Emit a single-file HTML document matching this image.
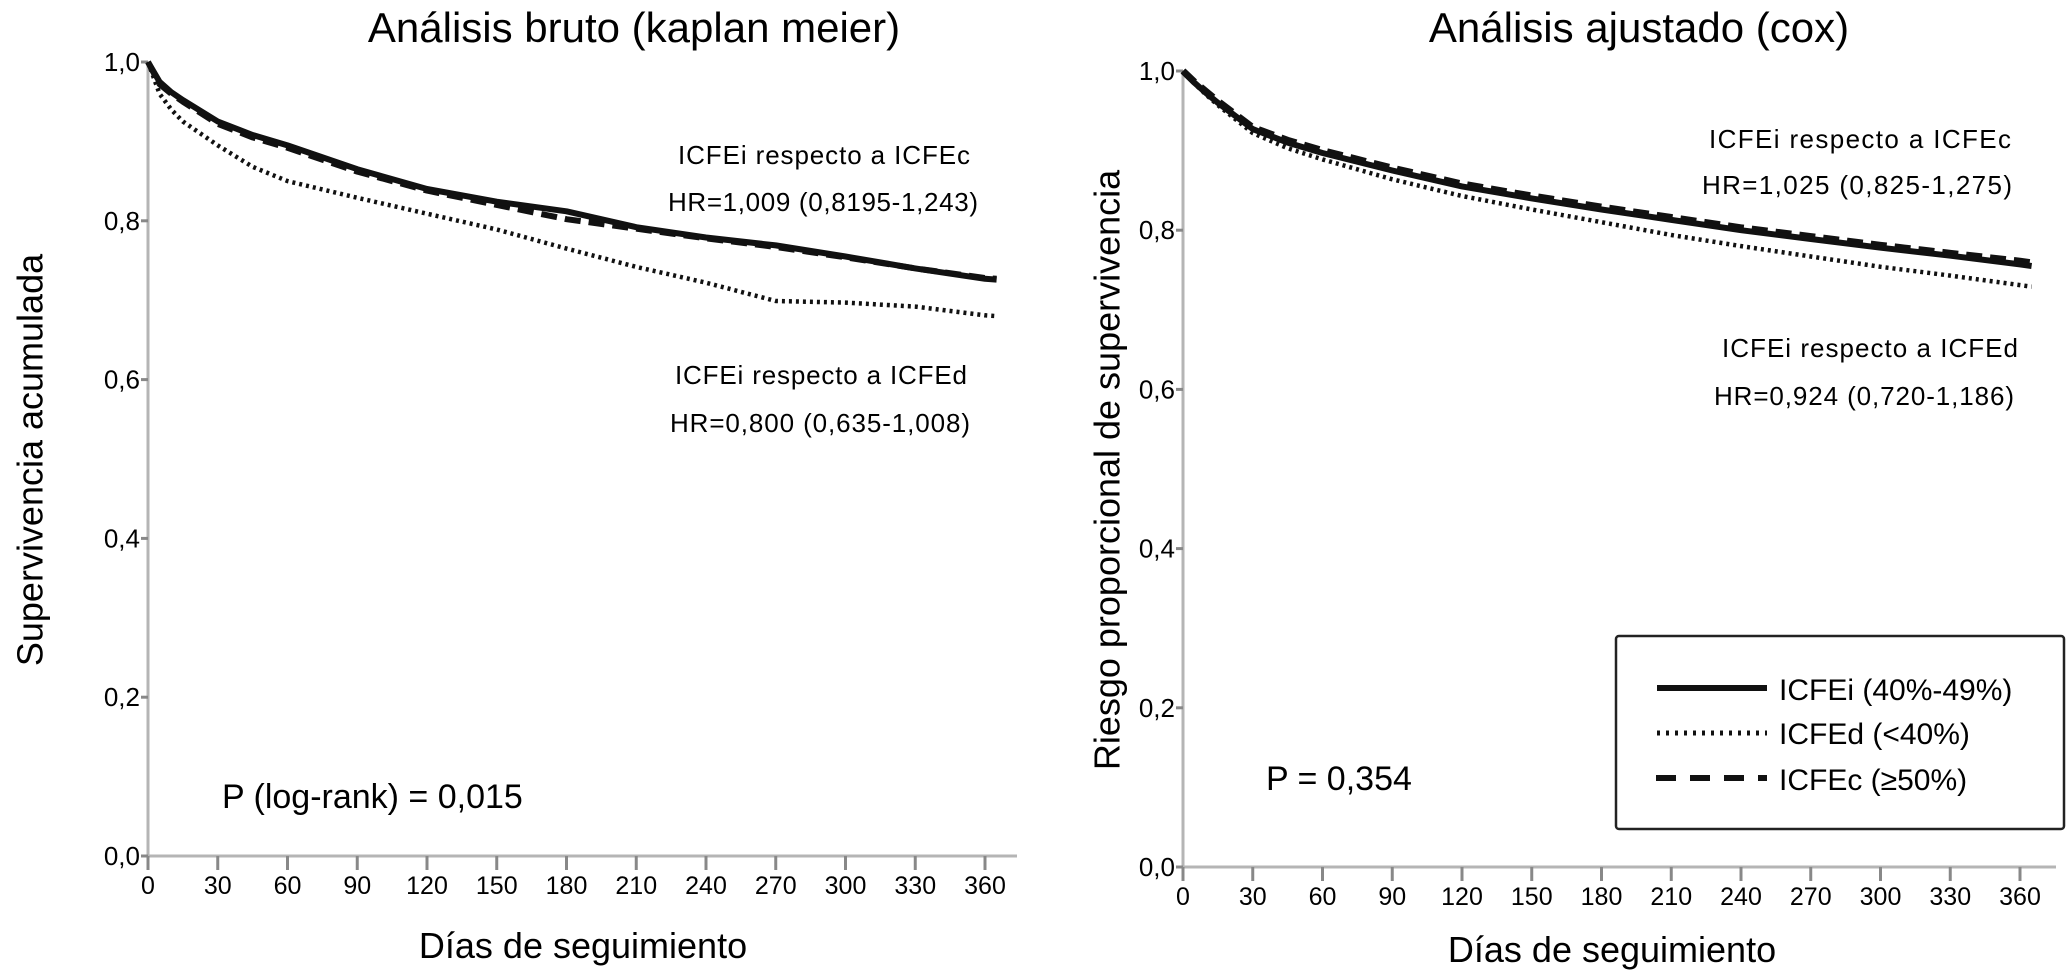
<!DOCTYPE html>
<html><head><meta charset="utf-8"><style>
html,body{margin:0;padding:0;background:#fff}
svg{display:block;font-family:"Liberation Sans",sans-serif}
</style></head><body>
<svg id="fig" width="2072" height="974" viewBox="0 0 2072 974" xmlns="http://www.w3.org/2000/svg">
<text x="634" y="42" font-size="42" text-anchor="middle">Análisis bruto (kaplan meier)</text>
<text x="1639" y="42" font-size="42" text-anchor="middle">Análisis ajustado (cox)</text>
<text transform="translate(30,460) rotate(-90)" font-size="36" text-anchor="middle" dominant-baseline="central">Supervivencia acumulada</text>
<text transform="translate(1107,470) rotate(-90)" font-size="36" text-anchor="middle" dominant-baseline="central">Riesgo proporcional de supervivencia</text>
<text x="583" y="958" font-size="36" text-anchor="middle">Días de seguimiento</text>
<text x="1612" y="962" font-size="36" text-anchor="middle">Días de seguimiento</text>

<text x="678" y="164" font-size="26" textLength="292">ICFEi respecto a ICFEc</text>
<text x="668" y="211" font-size="26" textLength="310">HR=1,009 (0,8195-1,243)</text>
<text x="675" y="384" font-size="26" textLength="292">ICFEi respecto a ICFEd</text>
<text x="670" y="432" font-size="26" textLength="300">HR=0,800 (0,635-1,008)</text>
<text x="222" y="808" font-size="34">P (log-rank) = 0,015</text>

<text x="1709" y="148" font-size="26" textLength="302">ICFEi respecto a ICFEc</text>
<text x="1702" y="194" font-size="26" textLength="310">HR=1,025 (0,825-1,275)</text>
<text x="1722" y="357" font-size="26" textLength="296">ICFEi respecto a ICFEd</text>
<text x="1714" y="405" font-size="26" textLength="300">HR=0,924 (0,720-1,186)</text>
<text x="1266" y="790" font-size="34">P = 0,354</text>

<g>
<rect x="1616" y="636" width="448" height="193" fill="#fff" stroke="#222" stroke-width="2.5" rx="3"/>
<g>
<line x1="1657" y1="688" x2="1767" y2="688" stroke="#111" stroke-width="6"/>
<text x="1779" y="700" font-size="30">ICFEi (40%-49%)</text></g>
<g>
<line x1="1657" y1="733" x2="1767" y2="733" stroke="#111" stroke-width="5" stroke-dasharray="3,6"/>
<text x="1779" y="744" font-size="30">ICFEd (&lt;40%)</text></g>
<g>
<line x1="1656" y1="778" x2="1767" y2="778" stroke="#111" stroke-width="6" stroke-dasharray="20,14"/>
<text x="1779" y="790" font-size="30">ICFEc (≥50%)</text></g>
</g>
<g id="plots"></g>
</svg>
<script>
// data
const days = [0,5,10,15,30,45,60,90,120,150,180,210,240,270,300,330,360,365];
const leftICFEi = [1.0,0.975,0.962,0.952,0.925,0.908,0.895,0.865,0.84,0.824,0.812,0.792,0.779,0.769,0.755,0.74,0.727,0.726];
const leftICFEc = [1.0,0.972,0.96,0.95,0.922,0.905,0.892,0.862,0.838,0.82,0.802,0.79,0.778,0.767,0.754,0.74,0.728,0.727];
const leftICFEd = [1.0,0.96,0.94,0.925,0.895,0.868,0.85,0.829,0.809,0.789,0.765,0.742,0.722,0.699,0.697,0.692,0.681,0.68];
const rightICFEi = [1.0,0.985,0.972,0.96,0.927,0.91,0.897,0.875,0.855,0.84,0.826,0.813,0.8,0.789,0.778,0.768,0.757,0.755];
const rightICFEc = [1.0,0.986,0.974,0.962,0.929,0.913,0.9,0.878,0.858,0.843,0.829,0.816,0.803,0.792,0.781,0.771,0.761,0.759];
const rightICFEd = [1.0,0.984,0.97,0.957,0.922,0.903,0.889,0.864,0.843,0.826,0.81,0.794,0.78,0.767,0.754,0.743,0.731,0.729];
const xTicks = [0,30,60,90,120,150,180,210,240,270,300,330,360];
const yTicks = [0,0.2,0.4,0.6,0.8,1.0];
const yTickLabels = ["0,0","0,2","0,4","0,6","0,8","1,0"];

const NS="http://www.w3.org/2000/svg";
const g=document.getElementById('plots');
function mk(tag,attrs,parent){const e=document.createElementNS(NS,tag);for(const k in attrs)e.setAttribute(k,attrs[k]);(parent||g).appendChild(e);return e;}

function panel(name,x0,x360,y0,y1,xEnd,series){
  const sx=d=>x0+(x360-x0)*d/360;
  const sy=v=>y0+(y1-y0)*v;
  const pg=mk('g',{});
  
  
  const ya=mk('line',{x1:x0,y1:sy(1),x2:x0,y2:y0,stroke:'#b5b5b5','stroke-width':3},pg);
  
  
  const xa=mk('line',{x1:x0,y1:y0,x2:xEnd,y2:y0,stroke:'#b5b5b5','stroke-width':3},pg);
  
  
  yTicks.forEach((v,i)=>{
    mk('line',{x1:x0-7,y1:sy(v),x2:x0,y2:sy(v),stroke:'#888','stroke-width':3},pg);
    const t=mk('text',{x:x0-8,y:sy(v)+9,'font-size':26,'text-anchor':'end'},pg);
    t.textContent=yTickLabels[i];
    
    
  });
  xTicks.forEach(d=>{
    mk('line',{x1:sx(d),y1:y0,x2:sx(d),y2:y0+14,stroke:'#888','stroke-width':3},pg);
    const t=mk('text',{x:sx(d),y:y0+38,'font-size':25,'text-anchor':'middle'},pg);
    t.textContent=d;
    
    
  });
  series.forEach(s=>{
    const pts=days.map((d,i)=>sx(d).toFixed(1)+','+sy(s.vals[i]).toFixed(1)).join(' ');
    const p=mk('polyline',{points:pts,fill:'none',stroke:'#111','stroke-width':s.w,'stroke-dasharray':s.dash||'none','stroke-linejoin':'round'},pg);
    
    
  });
}
panel('left',148,985,856,62,1017,[
  {id:'icfed',vals:leftICFEd,w:4.5,dash:'3,4'},
  {id:'icfec',vals:leftICFEc,w:6,dash:'16,8'},
  {id:'icfei',vals:leftICFEi,w:6}
]);
panel('right',1183,2020,867,71,2056,[
  {id:'icfed',vals:rightICFEd,w:4.5,dash:'3,4'},
  {id:'icfec',vals:rightICFEc,w:7,dash:'16,8'},
  {id:'icfei',vals:rightICFEi,w:6}
]);
</script>
</body></html>
